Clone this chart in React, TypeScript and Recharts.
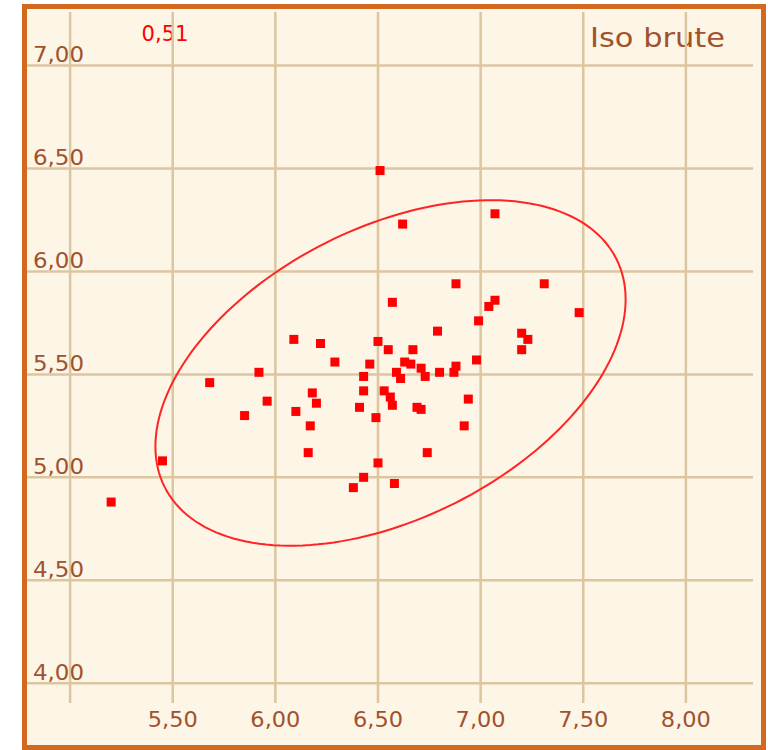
import { ScatterChart, Scatter, XAxis, YAxis, ReferenceLine } from "recharts";

// brute iso values
const isoX = [
  5.2, 5.45, 5.68, 5.85, 5.92, 5.96, 6.09, 6.1, 6.16, 6.17, 6.18, 6.2, 6.22, 6.29,
  6.38, 6.41, 6.43, 6.43, 6.43, 6.46, 6.49, 6.5, 6.51, 6.5, 6.53, 6.55, 6.56, 6.57,
  6.57, 6.58, 6.59, 6.61, 6.62, 6.63, 6.66, 6.67, 6.69, 6.71, 6.71, 6.73, 6.74, 6.79,
  6.8, 6.87, 6.88, 6.88, 6.92, 6.94, 6.98, 6.99, 7.04, 7.07, 7.07, 7.2, 7.2, 7.23,
  7.31, 7.48,
];
const isoY = [
  4.88, 5.08, 5.46, 5.3, 5.51, 5.37, 5.67, 5.32, 5.12, 5.25, 5.41, 5.36, 5.65, 5.56,
  4.95, 5.34, 5.49, 5.42, 5.0, 5.55, 5.29, 5.66, 6.49, 5.07, 5.42, 5.62, 5.39, 5.35,
  5.85, 4.97, 5.51, 5.48, 6.23, 5.56, 5.55, 5.62, 5.34, 5.53, 5.33, 5.49, 5.12, 5.71,
  5.51, 5.51, 5.54, 5.94, 5.25, 5.38, 5.57, 5.76, 5.83, 5.86, 6.28, 5.7, 5.62, 5.67,
  5.94, 5.8,
];

const xTicks = [5.0, 5.5, 6.0, 6.5, 7.0, 7.5, 8.0];
const yTicks = [4.0, 4.5, 5.0, 5.5, 6.0, 6.5, 7.0];
const xDomain = [4.79, 8.327];
const yDomain = [3.904, 7.26];

const correlation = "0,51";
const title = "Iso brute";

// dispersion ellipse: centre, semi-axes, tilt (degrees)
const ellipseCenter = [6.561, 5.507];
const ellipseAxes = [1.232, 0.706];
const ellipseTilt = 26.7;

const points = isoX.map((x, i) => ({ x, y: isoY[i] }));

const ellipse = (() => {
  const th = (ellipseTilt * Math.PI) / 180;
  const out: { x: number; y: number }[] = [];
  for (let i = 0; i <= 180; i++) {
    const t = (i / 180) * Math.PI * 2;
    const u = ellipseAxes[0] * Math.cos(t);
    const v = ellipseAxes[1] * Math.sin(t);
    out.push({
      x: ellipseCenter[0] + u * Math.cos(th) - v * Math.sin(th),
      y: ellipseCenter[1] + u * Math.sin(th) + v * Math.cos(th),
    });
  }
  return out;
})();

const BROWN = "#a0522d";
const GRID = "#dcc6a0";
const fmt = (v: number) => v.toFixed(2).replace(".", ",");

const XTick = (props: any) => {
  const { x, y, payload } = props;
  if (payload.value === 5) return <g />;
  return (
    <text x={x} y={y + 24} textAnchor="middle" fill={BROWN} fontSize={22}
      fontFamily="DejaVu Sans" textLength={50} lengthAdjust="spacingAndGlyphs">
      {fmt(payload.value)}
    </text>
  );
};

const YTick = (props: any) => {
  const { x, y, payload } = props;
  return (
    <text x={x + 6} y={y - 3.5} textAnchor="start" fill={BROWN} fontSize={22}
      fontFamily="DejaVu Sans" textLength={51} lengthAdjust="spacingAndGlyphs">
      {fmt(payload.value)}
    </text>
  );
};

const Square = (props: any) => {
  const { cx, cy } = props;
  return <rect x={cx - 4.5} y={cy - 4.5} width={9} height={9} fill="#ff0000" />;
};

export default function App() {
  return (
    <div style={{ position: "absolute", left: 0, top: 0, width: 768, height: 750 }}>
      <div
        style={{
          position: "absolute", left: 22, top: 4, width: 744, height: 746,
          boxSizing: "border-box", border: "5px solid #d2691e", background: "#fdf5e6",
        }}
      />
      <div style={{ position: "absolute", left: 0, top: 0 }}>
        <ScatterChart width={768} height={750} margin={{ top: 12, right: 15, left: 27, bottom: 17 }}>
          <XAxis type="number" dataKey="x" domain={xDomain} ticks={xTicks} allowDataOverflow
            axisLine={false} tickLine={false} tickSize={0} tickMargin={0} height={30}
            tick={<XTick />} interval={0} />
          <YAxis type="number" dataKey="y" domain={yDomain} ticks={yTicks} allowDataOverflow
            axisLine={false} tickLine={false} tickSize={0} tickMargin={0} mirror
            tick={<YTick />} interval={0} />
          {xTicks.map((t) => (
            <ReferenceLine key={"vx" + t} x={t} stroke={GRID} strokeWidth={2.5} />
          ))}
          {yTicks.map((t) => (
            <ReferenceLine key={"hy" + t} y={t} stroke={GRID} strokeWidth={2.5} />
          ))}
          <Scatter data={ellipse} line={{ stroke: "#ff2424", strokeWidth: 2 }}
            lineJointType="linear" shape={() => <g />} isAnimationActive={false} />
          <Scatter data={points} shape={<Square />} isAnimationActive={false} />
          <text x={165} y={41} textAnchor="middle" fill="#ff0000" fontSize={22}
            fontFamily="DejaVu Sans" textLength={47} lengthAdjust="spacingAndGlyphs">
            {correlation}
          </text>
          <text x={590} y={46.5} fill={BROWN} fontSize={27}
            fontFamily="DejaVu Sans" textLength={135} lengthAdjust="spacingAndGlyphs">
            {title}
          </text>
        </ScatterChart>
      </div>
    </div>
  );
}
